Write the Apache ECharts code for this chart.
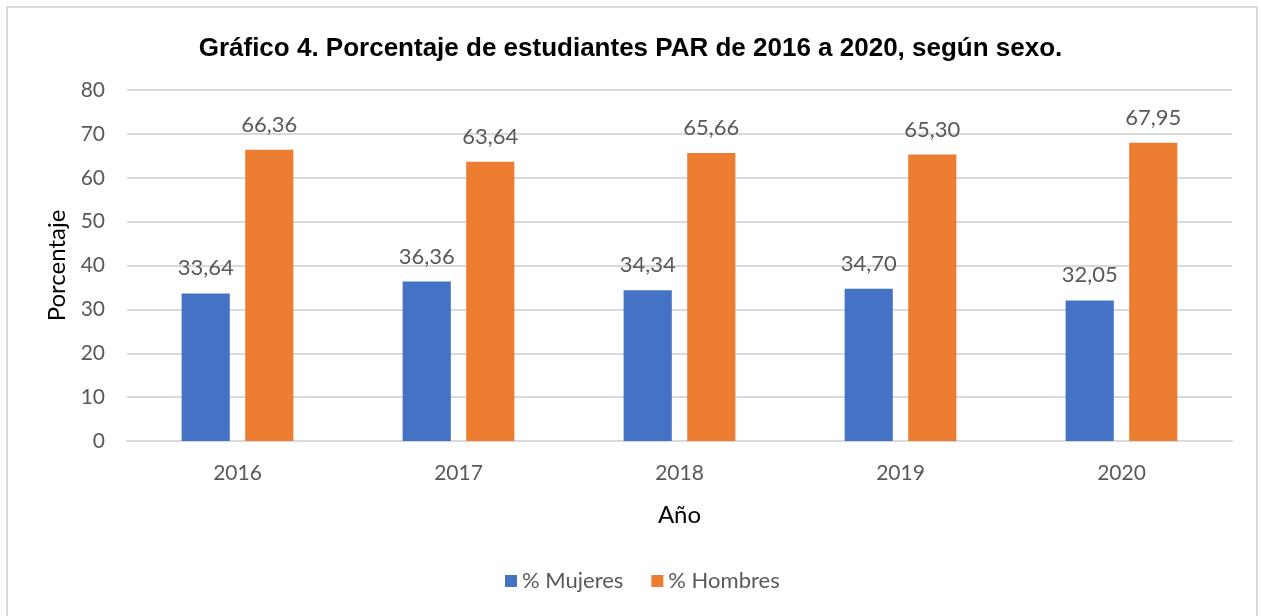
<!DOCTYPE html>
<html><head><meta charset="utf-8">
<script src="https://cdn.jsdelivr.net/npm/echarts@6/dist/echarts.min.js"></script>
<style>html,body{margin:0;padding:0;background:#fff}#c{width:1261px;height:616px}
#b{position:absolute;left:6px;top:6px;width:1252px;height:620px;border:2px solid #d9d9d9;box-sizing:border-box;pointer-events:none}</style>
</head><body><div id="c"></div><div id="b"></div>
<script>
const years = ['2016','2017','2018','2019','2020'];
const mujeres = [33.64, 36.36, 34.34, 34.70, 32.05];
const hombres = [66.36, 63.64, 65.66, 65.30, 67.95];
const chart = echarts.init(document.getElementById('c'));
const lbl = {show:true, position:'top', distance:14, fontFamily:'Lato', fontSize:22, color:'#595959',
  formatter: p => p.value.toFixed(2).replace('.', ',')};
chart.setOption({
  animation:false,
  title:{text:'Gráfico 4. Porcentaje de estudiantes PAR de 2016 a 2020, según sexo.', left:'center', top:31,
    textStyle:{fontFamily:'Liberation Sans', fontWeight:'bold', fontSize:26, color:'#000'}},
  grid:{left:127, right:29, top:90, bottom:175},
  legend:{bottom:19, left:500, itemWidth:12, itemHeight:12, itemGap:28, icon:'rect',
    textStyle:{fontFamily:'Lato', fontSize:22, color:'#595959'}},
  xAxis:{type:'category', data:years, name:'Año', nameLocation:'middle', nameGap:62,
    nameTextStyle:{fontFamily:'Lato', fontSize:24, color:'#000'},
    axisLine:{lineStyle:{color:'#d9d9d9', width:2}}, axisTick:{show:false},
    axisLabel:{fontFamily:'Lato', fontSize:21, color:'#595959', margin:22}},
  yAxis:{type:'value', min:0, max:80, interval:10, name:'Porcentaje', nameLocation:'middle', nameGap:58,
    nameTextStyle:{fontFamily:'Lato', fontSize:24, color:'#000'},
    axisLine:{show:false}, axisTick:{show:false},
    axisLabel:{fontFamily:'Lato', fontSize:21, color:'#595959', margin:22},
    splitLine:{lineStyle:{color:'#d9d9d9', width:2}}},
  series:[
    {name:'% Mujeres', type:'bar', data:mujeres, barWidth:'21.8%', barGap:'32%', itemStyle:{color:'#4472c4'}, label:lbl},
    {name:'% Hombres', type:'bar', data:hombres, barWidth:'21.8%', itemStyle:{color:'#ed7d31'}, label:lbl}
  ]
});
</script></body></html>
